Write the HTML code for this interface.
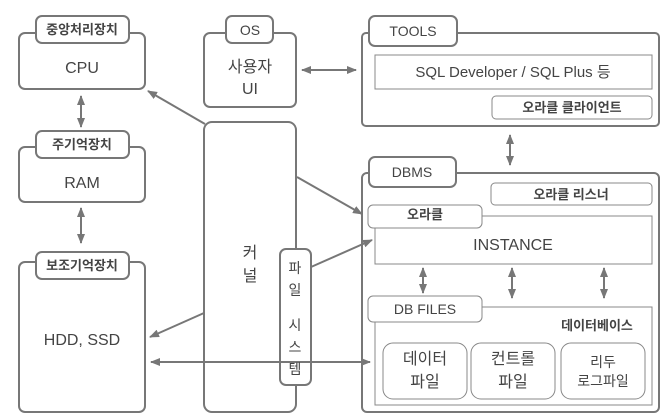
<!DOCTYPE html>
<html><head><meta charset="utf-8"><style>
html,body{margin:0;padding:0;background:#fff}
svg{display:block}
text{font-family:"Liberation Sans","Noto Sans CJK KR",sans-serif;fill:#444;text-anchor:middle}
</style></head><body>
<svg width="670" height="420" viewBox="0 0 670 420" xmlns="http://www.w3.org/2000/svg">
<defs>
<marker id="a" viewBox="0 0 10 10" refX="9" refY="5" markerWidth="5" markerHeight="5" orient="auto-start-reverse"><path d="M0,1 L10,5 L0,9 z" fill="#777"/></marker>
</defs>
<g fill="#fff" stroke="#777" stroke-width="2">
<rect x="19" y="33" width="126" height="56" rx="6"/>
<rect x="36" y="16" width="93" height="27" rx="6"/>
<rect x="19" y="147" width="126" height="55" rx="6"/>
<rect x="36" y="131" width="93" height="27" rx="6"/>
<rect x="19" y="262" width="126" height="150" rx="6"/>
<rect x="36" y="252" width="93" height="27" rx="6"/>
<rect x="204" y="33" width="92" height="74" rx="6"/>
<rect x="226" y="16" width="47" height="27" rx="6"/>
<rect x="204" y="122" width="92" height="290" rx="8"/>
<rect x="362" y="33" width="297" height="93" rx="4"/>
<rect x="369" y="16" width="88" height="30" rx="6"/>
<rect x="362" y="173" width="297" height="239" rx="5"/>
<rect x="369" y="157" width="87" height="30" rx="6"/>
</g>
<g fill="#fff" stroke="#888" stroke-width="1">
<rect x="375" y="55" width="277" height="34"/>
<rect x="492" y="96" width="160" height="23" rx="4"/>
<rect x="491" y="183" width="161" height="22" rx="4"/>
<rect x="375" y="216" width="277" height="48"/>
<rect x="368" y="205" width="114" height="23" rx="5"/>
<rect x="375" y="307" width="277" height="98"/>
<rect x="368" y="296" width="114" height="26" rx="5"/>
<rect x="383" y="343" width="84" height="56" rx="10"/>
<rect x="471" y="343" width="84" height="56" rx="10"/>
<rect x="561" y="343" width="84" height="56" rx="10"/>
</g>
<g stroke="#777" stroke-width="2" fill="none" marker-end="url(#a)">
<line x1="81" y1="96" x2="81" y2="127" marker-start="url(#a)"/>
<line x1="81" y1="208" x2="81" y2="243" marker-start="url(#a)"/>
<line x1="302" y1="70" x2="356" y2="70" marker-start="url(#a)"/>
<line x1="510" y1="135" x2="510" y2="165" marker-start="url(#a)"/>
<line x1="205" y1="124" x2="148" y2="91"/>
<line x1="297" y1="177" x2="362" y2="214"/>
<line x1="311" y1="267" x2="372" y2="240"/>
<line x1="204" y1="313" x2="150" y2="337"/>
<line x1="423" y1="268" x2="423" y2="293" marker-start="url(#a)"/>
<line x1="512" y1="268" x2="512" y2="298" marker-start="url(#a)"/>
<line x1="604" y1="268" x2="604" y2="298" marker-start="url(#a)"/>
</g>
<rect x="280" y="249" width="31" height="136" rx="6" fill="#fff" stroke="#777" stroke-width="2"/>
<line x1="151" y1="362" x2="370" y2="362" stroke="#777" stroke-width="2" marker-end="url(#a)" marker-start="url(#a)"/>
<g font-size="13" font-weight="bold">
<text x="82" y="34">중앙처리장치</text>
<text x="82" y="149">주기억장치</text>
<text x="82" y="270">보조기억장치</text>
<text x="425" y="219">오라클</text>
<text x="571" y="199">오라클 리스너</text>
<text x="572" y="112">오라클 클라이언트</text>
<text x="597" y="330">데이터베이스</text>
</g>
<g font-size="14">
<text x="250" y="35">OS</text>
<text x="413" y="36">TOOLS</text>
<text x="412" y="177">DBMS</text>
<text x="425" y="314">DB FILES</text>
</g>
<g font-size="16">
<text x="82" y="73">CPU</text>
<text x="82" y="188">RAM</text>
<text x="82" y="345">HDD, SSD</text>
<text x="250" y="72">사용자</text>
<text x="250" y="94">UI</text>
<text x="250" y="258">커</text>
<text x="250" y="281">널</text>
<text x="513" y="250">INSTANCE</text>
<text x="425" y="364">데이터</text>
<text x="425" y="387">파일</text>
<text x="513" y="364">컨트롤</text>
<text x="513" y="387">파일</text>
</g>
<text x="513" y="77" font-size="15">SQL Developer / SQL Plus 등</text>
<g font-size="14">
<text x="603" y="367">리두</text>
<text x="603" y="386">로그파일</text>
<text x="295" y="273">파</text>
<text x="295" y="295">일</text>
<text x="295" y="330">시</text>
<text x="295" y="352">스</text>
<text x="295" y="374">템</text>
</g>
</svg>
</body></html>
